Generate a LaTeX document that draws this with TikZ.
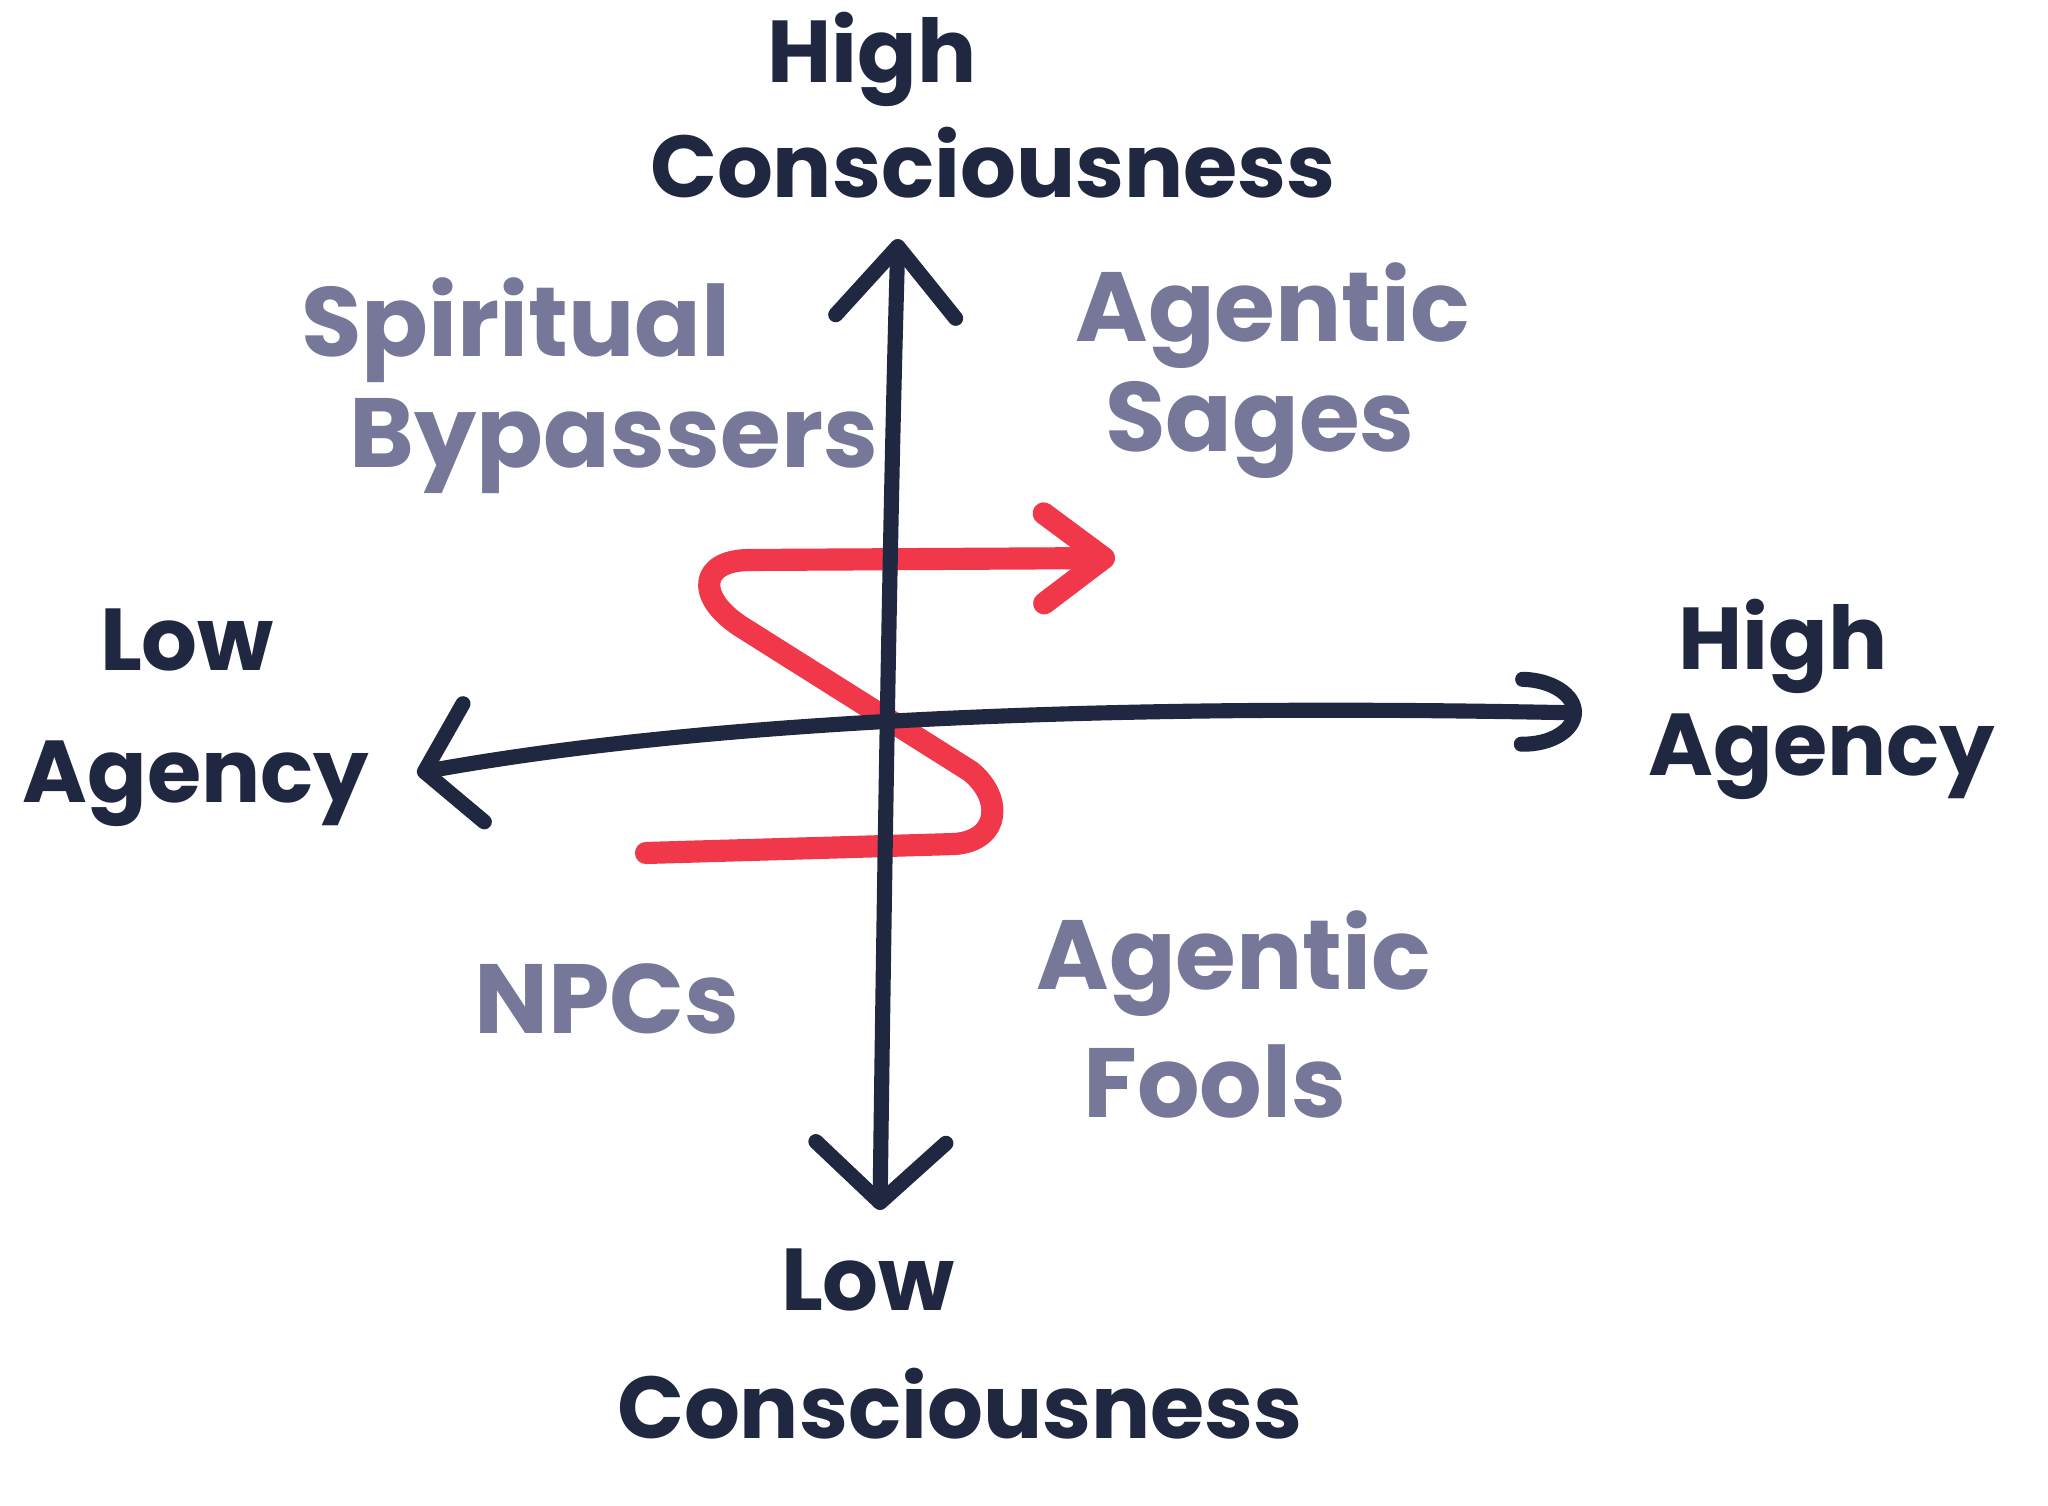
\documentclass[tikz,border=0pt]{standalone}
\usepackage{fontspec}
\setmainfont{Poppins}
\usetikzlibrary{arrows.meta}
\definecolor{ink}{HTML}{1F2840}
\definecolor{quad}{HTML}{77779A}
\definecolor{marker}{HTML}{F0384A}

\begin{document}
\begin{tikzpicture}[line cap=round, line join=round,
    axis/.style={draw=ink, line width=4.3pt},
    pathline/.style={draw=marker, line width=6.3pt},
    axislabel/.style={text=ink, font=\fontsize{25}{27}\selectfont\bfseries, inner sep=0pt},
    quadlabel/.style={text=quad, font=\fontsize{28}{30}\selectfont\bfseries, inner sep=0pt}]
  \fill[white] (0,0) rectangle (20.48,15.06);
  \useasboundingbox (0,0) rectangle (20.48,15.06);

  % axis end points
  \coordinate (hiC)  at (8.98,12.67);
  \coordinate (loC)  at (8.80,2.96);
  \coordinate (loA)  at (4.17,7.33);
  \coordinate (hiA)  at (15.82,7.93);

  % the way through the quadrants
  \coordinate (start) at (6.46,6.53);
  \coordinate (goal)  at (11.15,9.48);
  \draw[pathline, -{Straight Barb[round, length=6mm, width=9mm]}]
    (start) -- (9.55,6.62) .. controls (10.02,6.66) and (10.02,7.10) .. (9.70,7.35)
    -- (7.40,8.80) .. controls (6.95,9.10) and (7.00,9.46) .. (7.50,9.46) -- (goal);

  \draw[axis, {Straight Barb[round, length=6mm, width=13mm]}-{Straight Barb[round, length=7mm, width=12mm]}]
    (loC) .. controls (8.84,6.0) and (8.90,10.0) .. (hiC);
  \draw[axis, {Straight Barb[round, length=5mm, width=12mm]}-{Arc Barb[round, length=6mm, width=8mm]}]
    (loA) .. controls (6.5,7.75) and (10.0,8.05) .. (hiA);

  % axis labels
  \node[axislabel] (hiCtop)  at (8.72,14.47) {High};
  \node[axislabel] (hiCname) at (9.93,13.43) {Consciousness};
  \node[axislabel] (loCtop)  at (8.68,2.26)  {Low};
  \node[axislabel] (loCname) at (9.60,1.02)  {Consciousness};
  \node[axislabel] (loAtop)  at (1.87,8.66)  {Low};
  \node[axislabel] (loAname) at (1.96,7.22)  {Agency};
  \node[axislabel] (hiAtop)  at (17.83,8.60) {High};
  \node[axislabel] (hiAname) at (18.22,7.49) {Agency};

  % quadrants
  \node[quadlabel] (spirit) at (5.16,11.76) {Spiritual};
  \node[quadlabel] (bypass) at (6.14,10.60) {Bypassers};
  \node[quadlabel] (agS)    at (12.73,11.90) {Agentic};
  \node[quadlabel] (sages)  at (12.60,10.76) {Sages};
  \node[quadlabel] (npcs)   at (6.07,5.07)  {NPCs};
  \node[quadlabel] (agF)    at (12.34,5.42) {Agentic};
  \node[quadlabel] (fools)  at (12.15,4.25) {Fools};
\end{tikzpicture}
\end{document}
